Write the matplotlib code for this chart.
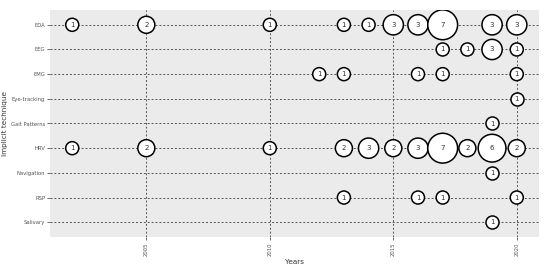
import numpy as np
import matplotlib
matplotlib.use("Agg")
import matplotlib.pyplot as plt

# Implicit techniques (top to bottom)
techniques = ["EDA", "EEG", "EMG", "Eye-tracking", "Gait Patterns",
              "HRV", "Navigation", "RSP", "Salivary"]

# years / counts per technique
eda_years = [2002, 2005, 2010, 2013, 2014, 2015, 2016, 2017, 2019, 2020]
eda_counts = [1, 2, 1, 1, 1, 3, 3, 7, 3, 3]
eeg_years = [2017, 2018, 2019, 2020]
eeg_counts = [1, 1, 3, 1]
emg_years = [2012, 2013, 2016, 2017, 2020]
emg_counts = [1, 1, 1, 1, 1]
eye_years = [2020]
eye_counts = [1]
gait_years = [2019]
gait_counts = [1]
hrv_years = [2002, 2005, 2010, 2013, 2014, 2015, 2016, 2017, 2018, 2019, 2020]
hrv_counts = [1, 2, 1, 2, 3, 2, 3, 7, 2, 6, 2]
nav_years = [2019]
nav_counts = [1]
rsp_years = [2013, 2016, 2017, 2020]
rsp_counts = [1, 1, 1, 1]
sal_years = [2019]
sal_counts = [1]

year_ticks = [2005, 2010, 2015, 2020]

series = [
    (eda_years, eda_counts), (eeg_years, eeg_counts), (emg_years, emg_counts),
    (eye_years, eye_counts), (gait_years, gait_counts), (hrv_years, hrv_counts),
    (nav_years, nav_counts), (rsp_years, rsp_counts), (sal_years, sal_counts),
]

DPI = 100
fig = plt.figure(figsize=(5.5, 2.71), dpi=DPI)
ax = fig.add_axes([50 / 550, 1 - 237 / 271, 489 / 550, 227 / 271])
ax.set_facecolor("#EBEBEB")

def bubble_size(n):
    # diameter in px ~ sqrt(50 + 120 n), converted to points^2
    d_px = np.sqrt(50 + 120 * n)
    return (d_px * 72 / DPI) ** 2

for i, (yrs, cnts) in enumerate(series):
    yy = [i] * len(yrs)
    ax.scatter(yrs, yy, s=[bubble_size(c) for c in cnts], facecolor="white",
               edgecolor="black", linewidth=1.1, zorder=3)
    for x, c in zip(yrs, cnts):
        ax.text(x, i, str(c), ha="center", va="center", fontsize=5,
                color="#333333", zorder=4)

ax.set_xlim(2001.1, 2020.9)
ax.set_ylim(len(techniques) - 0.4, -0.6)
ax.set_yticks(range(len(techniques)))
ax.set_yticklabels(techniques)
ax.set_xticks(year_ticks)
ax.set_xticklabels([str(y) for y in year_ticks], rotation=90)

ax.grid(True, color="#555555", linestyle=(0, (2, 2)), linewidth=0.7)
ax.set_axisbelow(True)
for sp in ax.spines.values():
    sp.set_visible(False)
ax.tick_params(axis="both", labelsize=3.8, colors="#555555", length=2,
               width=0.6, pad=1.5)
ax.tick_params(axis="x", pad=2)

ax.set_xlabel("Years", fontsize=5.2, color="#333333")
ax.set_ylabel("Implicit technique", fontsize=5.2, color="#333333")
ax.xaxis.set_label_coords(0.5, -22 / 227, transform=ax.transAxes)
ax.yaxis.set_label_coords(-42 / 489, 0.5, transform=ax.transAxes)

fig.savefig("out.png", dpi=DPI)
